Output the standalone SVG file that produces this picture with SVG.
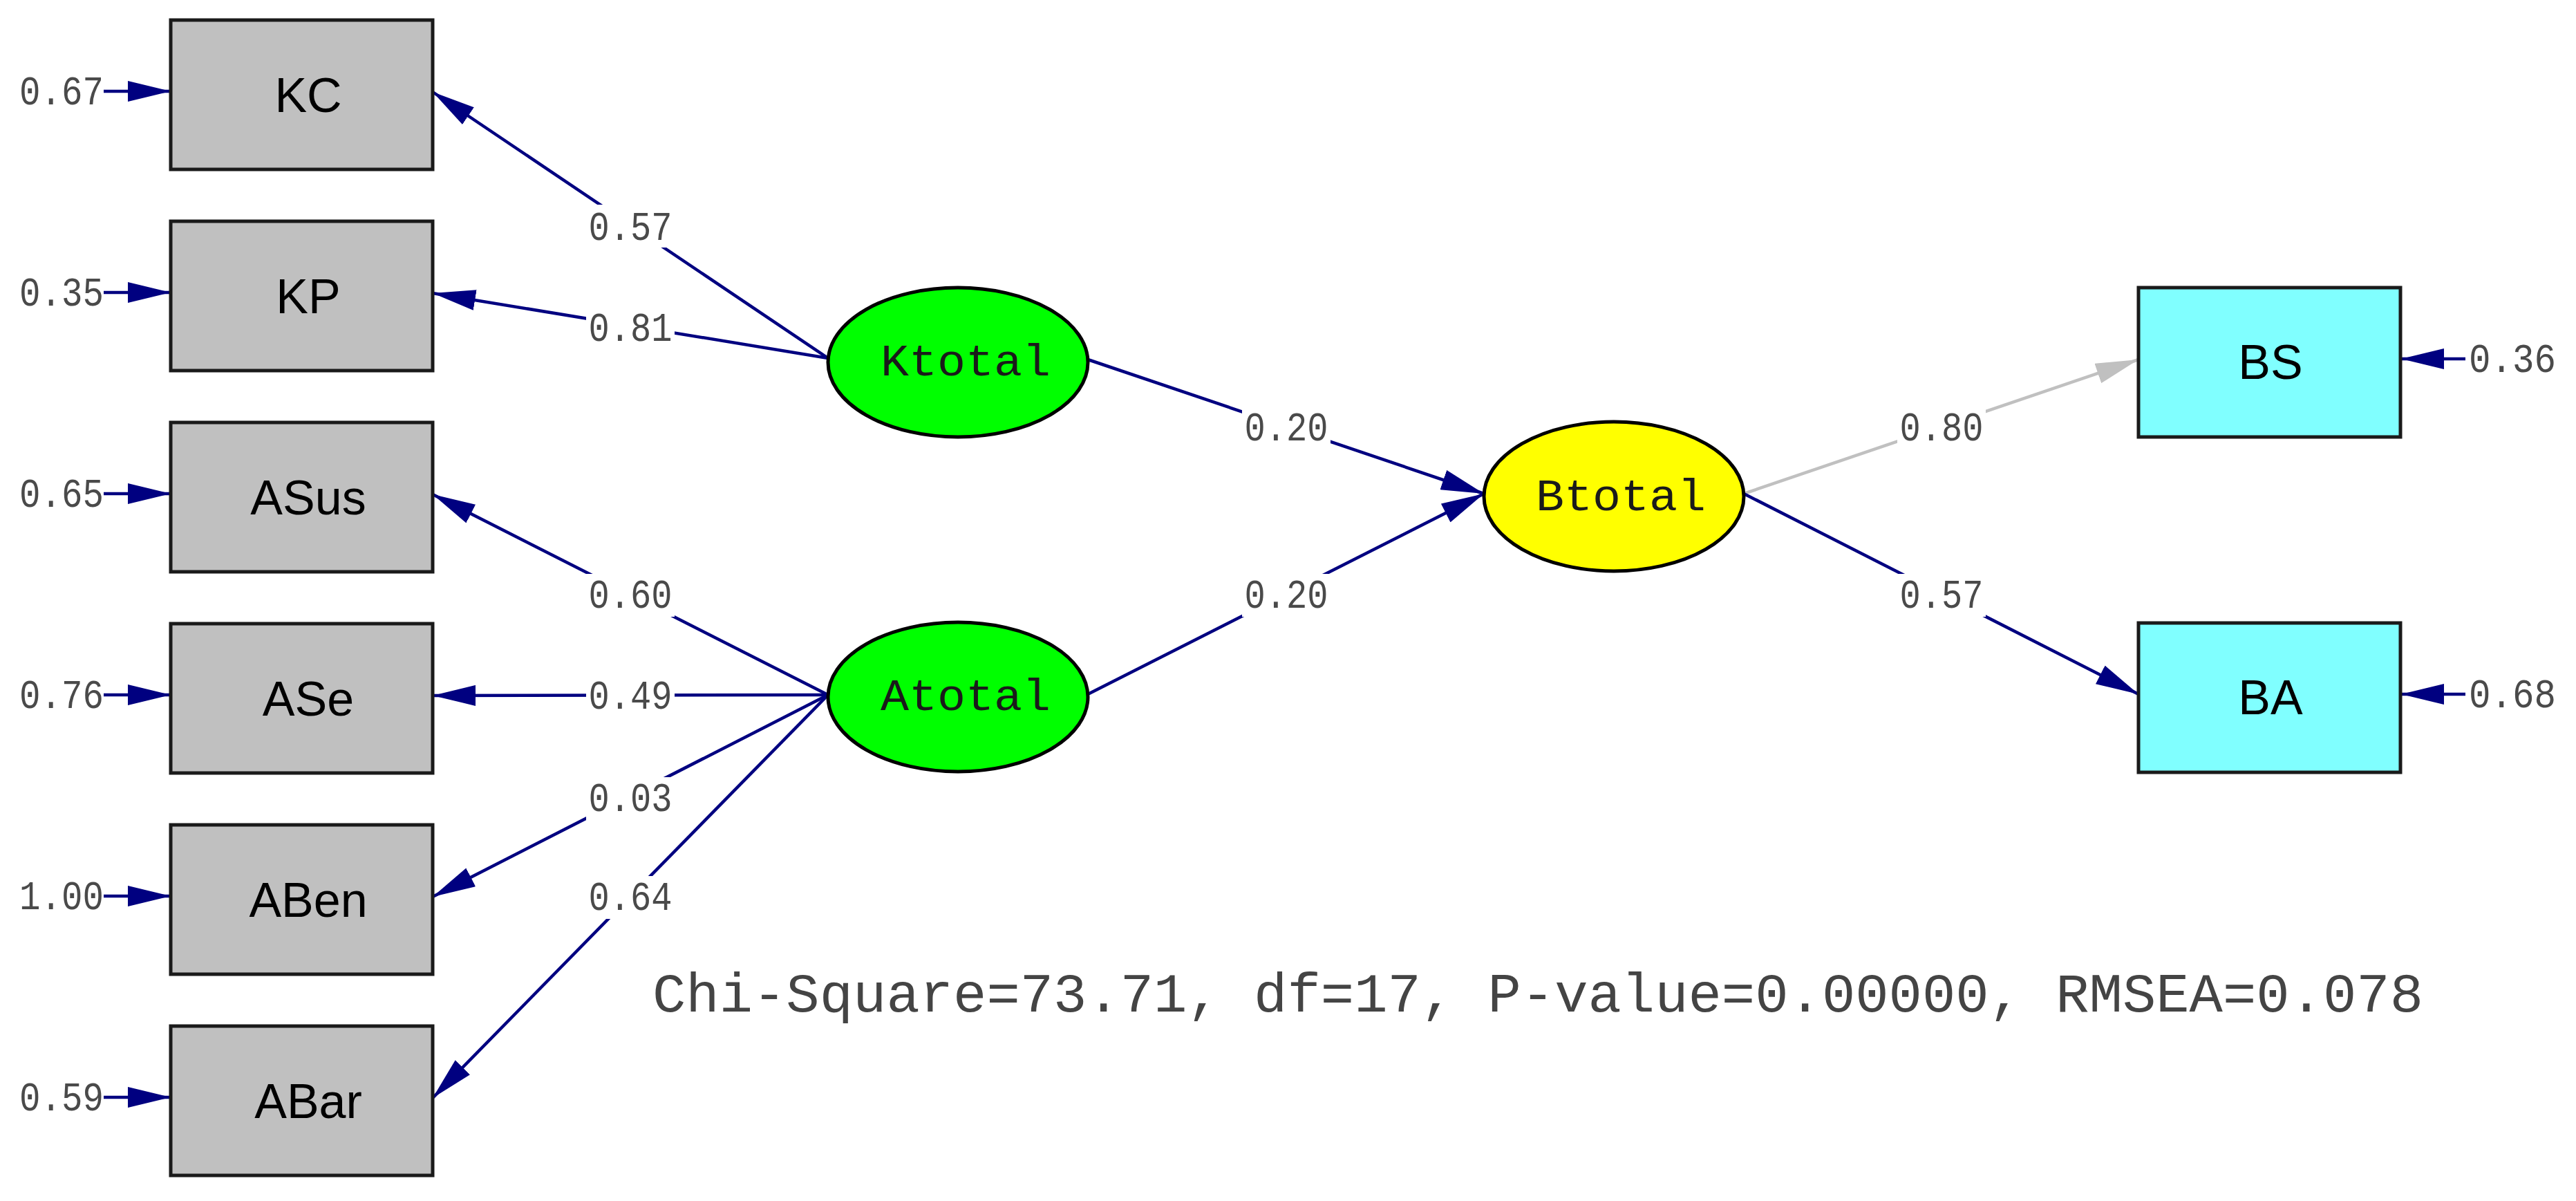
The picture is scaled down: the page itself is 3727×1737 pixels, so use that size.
<svg xmlns="http://www.w3.org/2000/svg" width="3727" height="1737" viewBox="0 0 3727 1737">
<style>
.obs{fill:#c0c0c0;stroke:#1a1a1a;stroke-width:5}
.obsb{fill:#80ffff;stroke:#1a1a1a;stroke-width:5}
.lat{stroke:#000;stroke-width:5}
.nl{font-family:"Liberation Sans",Arial,sans-serif;font-size:70px;fill:#000;text-anchor:middle}
.ll{font-family:"Liberation Mono","Courier New",monospace;font-size:64px;fill:#1a1a1a;text-anchor:middle}
.num{font-family:"Liberation Mono","Courier New",monospace;font-size:60px;fill:#4a4a4a}
.c{fill:none;stroke:#000080;stroke-width:4.5}
.g{fill:none;stroke:#c0c0c0;stroke-width:4.5}
.bg{fill:#fff}
</style>
<defs>
<marker id="ah" markerUnits="userSpaceOnUse" markerWidth="62" markerHeight="30" refX="62" refY="15" orient="auto" viewBox="0 0 62 30">
<path d="M0,0 L62,15 L0,30 z" fill="#000080"/>
</marker>
<marker id="ahg" markerUnits="userSpaceOnUse" markerWidth="62" markerHeight="30" refX="62" refY="15" orient="auto" viewBox="0 0 62 30">
<path d="M0,0 L62,15 L0,30 z" fill="#c0c0c0"/>
</marker>
</defs>

<g id="connectors">
<!-- error arrows -->
<line class="c" x1="150" y1="132" x2="247" y2="132" marker-end="url(#ah)"/>
<line class="c" x1="150" y1="423" x2="247" y2="423" marker-end="url(#ah)"/>
<line class="c" x1="150" y1="714" x2="247" y2="714" marker-end="url(#ah)"/>
<line class="c" x1="150" y1="1005" x2="247" y2="1005" marker-end="url(#ah)"/>
<line class="c" x1="150" y1="1296" x2="247" y2="1296" marker-end="url(#ah)"/>
<line class="c" x1="150" y1="1587" x2="247" y2="1587" marker-end="url(#ah)"/>
<line class="c" x1="3567" y1="519" x2="3474" y2="519" marker-end="url(#ah)"/>
<line class="c" x1="3567" y1="1004" x2="3474" y2="1004" marker-end="url(#ah)"/>
<!-- loadings -->
<line class="c" x1="1198" y1="518" x2="626" y2="133" marker-end="url(#ah)"/>
<line class="c" x1="1198" y1="518" x2="626" y2="424" marker-end="url(#ah)"/>
<line class="c" x1="1198" y1="1005" x2="626" y2="715" marker-end="url(#ah)"/>
<line class="c" x1="1198" y1="1005" x2="626" y2="1006" marker-end="url(#ah)"/>
<line class="c" x1="1198" y1="1005" x2="626" y2="1297" marker-end="url(#ah)"/>
<line class="c" x1="1198" y1="1005" x2="626" y2="1588" marker-end="url(#ah)"/>
<line class="c" x1="1574" y1="520" x2="2147" y2="714" marker-end="url(#ah)"/>
<line class="c" x1="1574" y1="1004" x2="2147" y2="714" marker-end="url(#ah)"/>
<line class="g" x1="2523" y1="714" x2="3094" y2="520" marker-end="url(#ahg)"/>
<line class="c" x1="2523" y1="714" x2="3094" y2="1004" marker-end="url(#ah)"/>
<!-- label backgrounds -->
<rect class="bg" x="848" y="296" width="128" height="62"/>
<rect class="bg" x="848" y="444" width="128" height="62"/>
<rect class="bg" x="848" y="830" width="128" height="62"/>
<rect class="bg" x="848" y="976" width="128" height="62"/>
<rect class="bg" x="848" y="1124" width="128" height="62"/>
<rect class="bg" x="848" y="1267" width="128" height="62"/>
<rect class="bg" x="1797" y="588" width="128" height="62"/>
<rect class="bg" x="1797" y="830" width="128" height="62"/>
<rect class="bg" x="2745" y="588" width="128" height="62"/>
<rect class="bg" x="2745" y="830" width="128" height="62"/>
<!-- labels -->
<text class="num" x="912" y="347" text-anchor="middle" textLength="121" lengthAdjust="spacingAndGlyphs">0.57</text>
<text class="num" x="912" y="493" text-anchor="middle" textLength="121" lengthAdjust="spacingAndGlyphs">0.81</text>
<text class="num" x="912" y="879" text-anchor="middle" textLength="121" lengthAdjust="spacingAndGlyphs">0.60</text>
<text class="num" x="912" y="1025" text-anchor="middle" textLength="121" lengthAdjust="spacingAndGlyphs">0.49</text>
<text class="num" x="912" y="1173" text-anchor="middle" textLength="121" lengthAdjust="spacingAndGlyphs">0.03</text>
<text class="num" x="912" y="1316" text-anchor="middle" textLength="121" lengthAdjust="spacingAndGlyphs">0.64</text>
<text class="num" x="1861" y="637" text-anchor="middle" textLength="121" lengthAdjust="spacingAndGlyphs">0.20</text>
<text class="num" x="1861" y="879" text-anchor="middle" textLength="121" lengthAdjust="spacingAndGlyphs">0.20</text>
<text class="num" x="2809" y="637" text-anchor="middle" textLength="121" lengthAdjust="spacingAndGlyphs">0.80</text>
<text class="num" x="2809" y="879" text-anchor="middle" textLength="121" lengthAdjust="spacingAndGlyphs">0.57</text>
<!-- error values -->
<text class="num" x="150" y="151" text-anchor="end" textLength="122" lengthAdjust="spacingAndGlyphs">0.67</text>
<text class="num" x="150" y="442" text-anchor="end" textLength="122" lengthAdjust="spacingAndGlyphs">0.35</text>
<text class="num" x="150" y="733" text-anchor="end" textLength="122" lengthAdjust="spacingAndGlyphs">0.65</text>
<text class="num" x="150" y="1024" text-anchor="end" textLength="122" lengthAdjust="spacingAndGlyphs">0.76</text>
<text class="num" x="150" y="1315" text-anchor="end" textLength="122" lengthAdjust="spacingAndGlyphs">1.00</text>
<text class="num" x="150" y="1606" text-anchor="end" textLength="122" lengthAdjust="spacingAndGlyphs">0.59</text>
<text class="num" x="3572" y="538" textLength="126" lengthAdjust="spacingAndGlyphs">0.36</text>
<text class="num" x="3572" y="1023" textLength="126" lengthAdjust="spacingAndGlyphs">0.68</text>
</g>

<g id="KC"><rect class="obs" x="247" y="29" width="379" height="216"/><text class="nl" x="446" y="162">KC</text></g>
<g id="KP"><rect class="obs" x="247" y="320" width="379" height="216"/><text class="nl" x="446" y="453">KP</text></g>
<g id="ASus"><rect class="obs" x="247" y="611" width="379" height="216"/><text class="nl" x="446" y="744">ASus</text></g>
<g id="ASe"><rect class="obs" x="247" y="902" width="379" height="216"/><text class="nl" x="446" y="1035">ASe</text></g>
<g id="ABen"><rect class="obs" x="247" y="1193" width="379" height="216"/><text class="nl" x="446" y="1326">ABen</text></g>
<g id="ABar"><rect class="obs" x="247" y="1484" width="379" height="216"/><text class="nl" x="446" y="1617">ABar</text></g>
<g id="BS"><rect class="obsb" x="3094" y="416" width="379" height="216"/><text class="nl" x="3285" y="548">BS</text></g>
<g id="BA"><rect class="obsb" x="3094" y="901" width="379" height="216"/><text class="nl" x="3285" y="1033">BA</text></g>

<g id="Ktotal"><ellipse class="lat" cx="1386" cy="524" rx="188" ry="108" fill="#00ff00"/><text class="ll" x="1397" y="543" textLength="246" lengthAdjust="spacingAndGlyphs">Ktotal</text></g>
<g id="Atotal"><ellipse class="lat" cx="1386" cy="1008" rx="188" ry="108" fill="#00ff00"/><text class="ll" x="1397" y="1027" textLength="246" lengthAdjust="spacingAndGlyphs">Atotal</text></g>
<g id="Btotal"><ellipse class="lat" cx="2335" cy="718" rx="188" ry="108" fill="#ffff00"/><text class="ll" x="2345" y="738" textLength="246" lengthAdjust="spacingAndGlyphs">Btotal</text></g>

<text id="fit" x="944" y="1463" font-family="Liberation Mono, Courier New, monospace" font-size="80" fill="#444" textLength="2562" lengthAdjust="spacingAndGlyphs">Chi-Square=73.71, df=17, P-value=0.00000, RMSEA=0.078</text>
</svg>
